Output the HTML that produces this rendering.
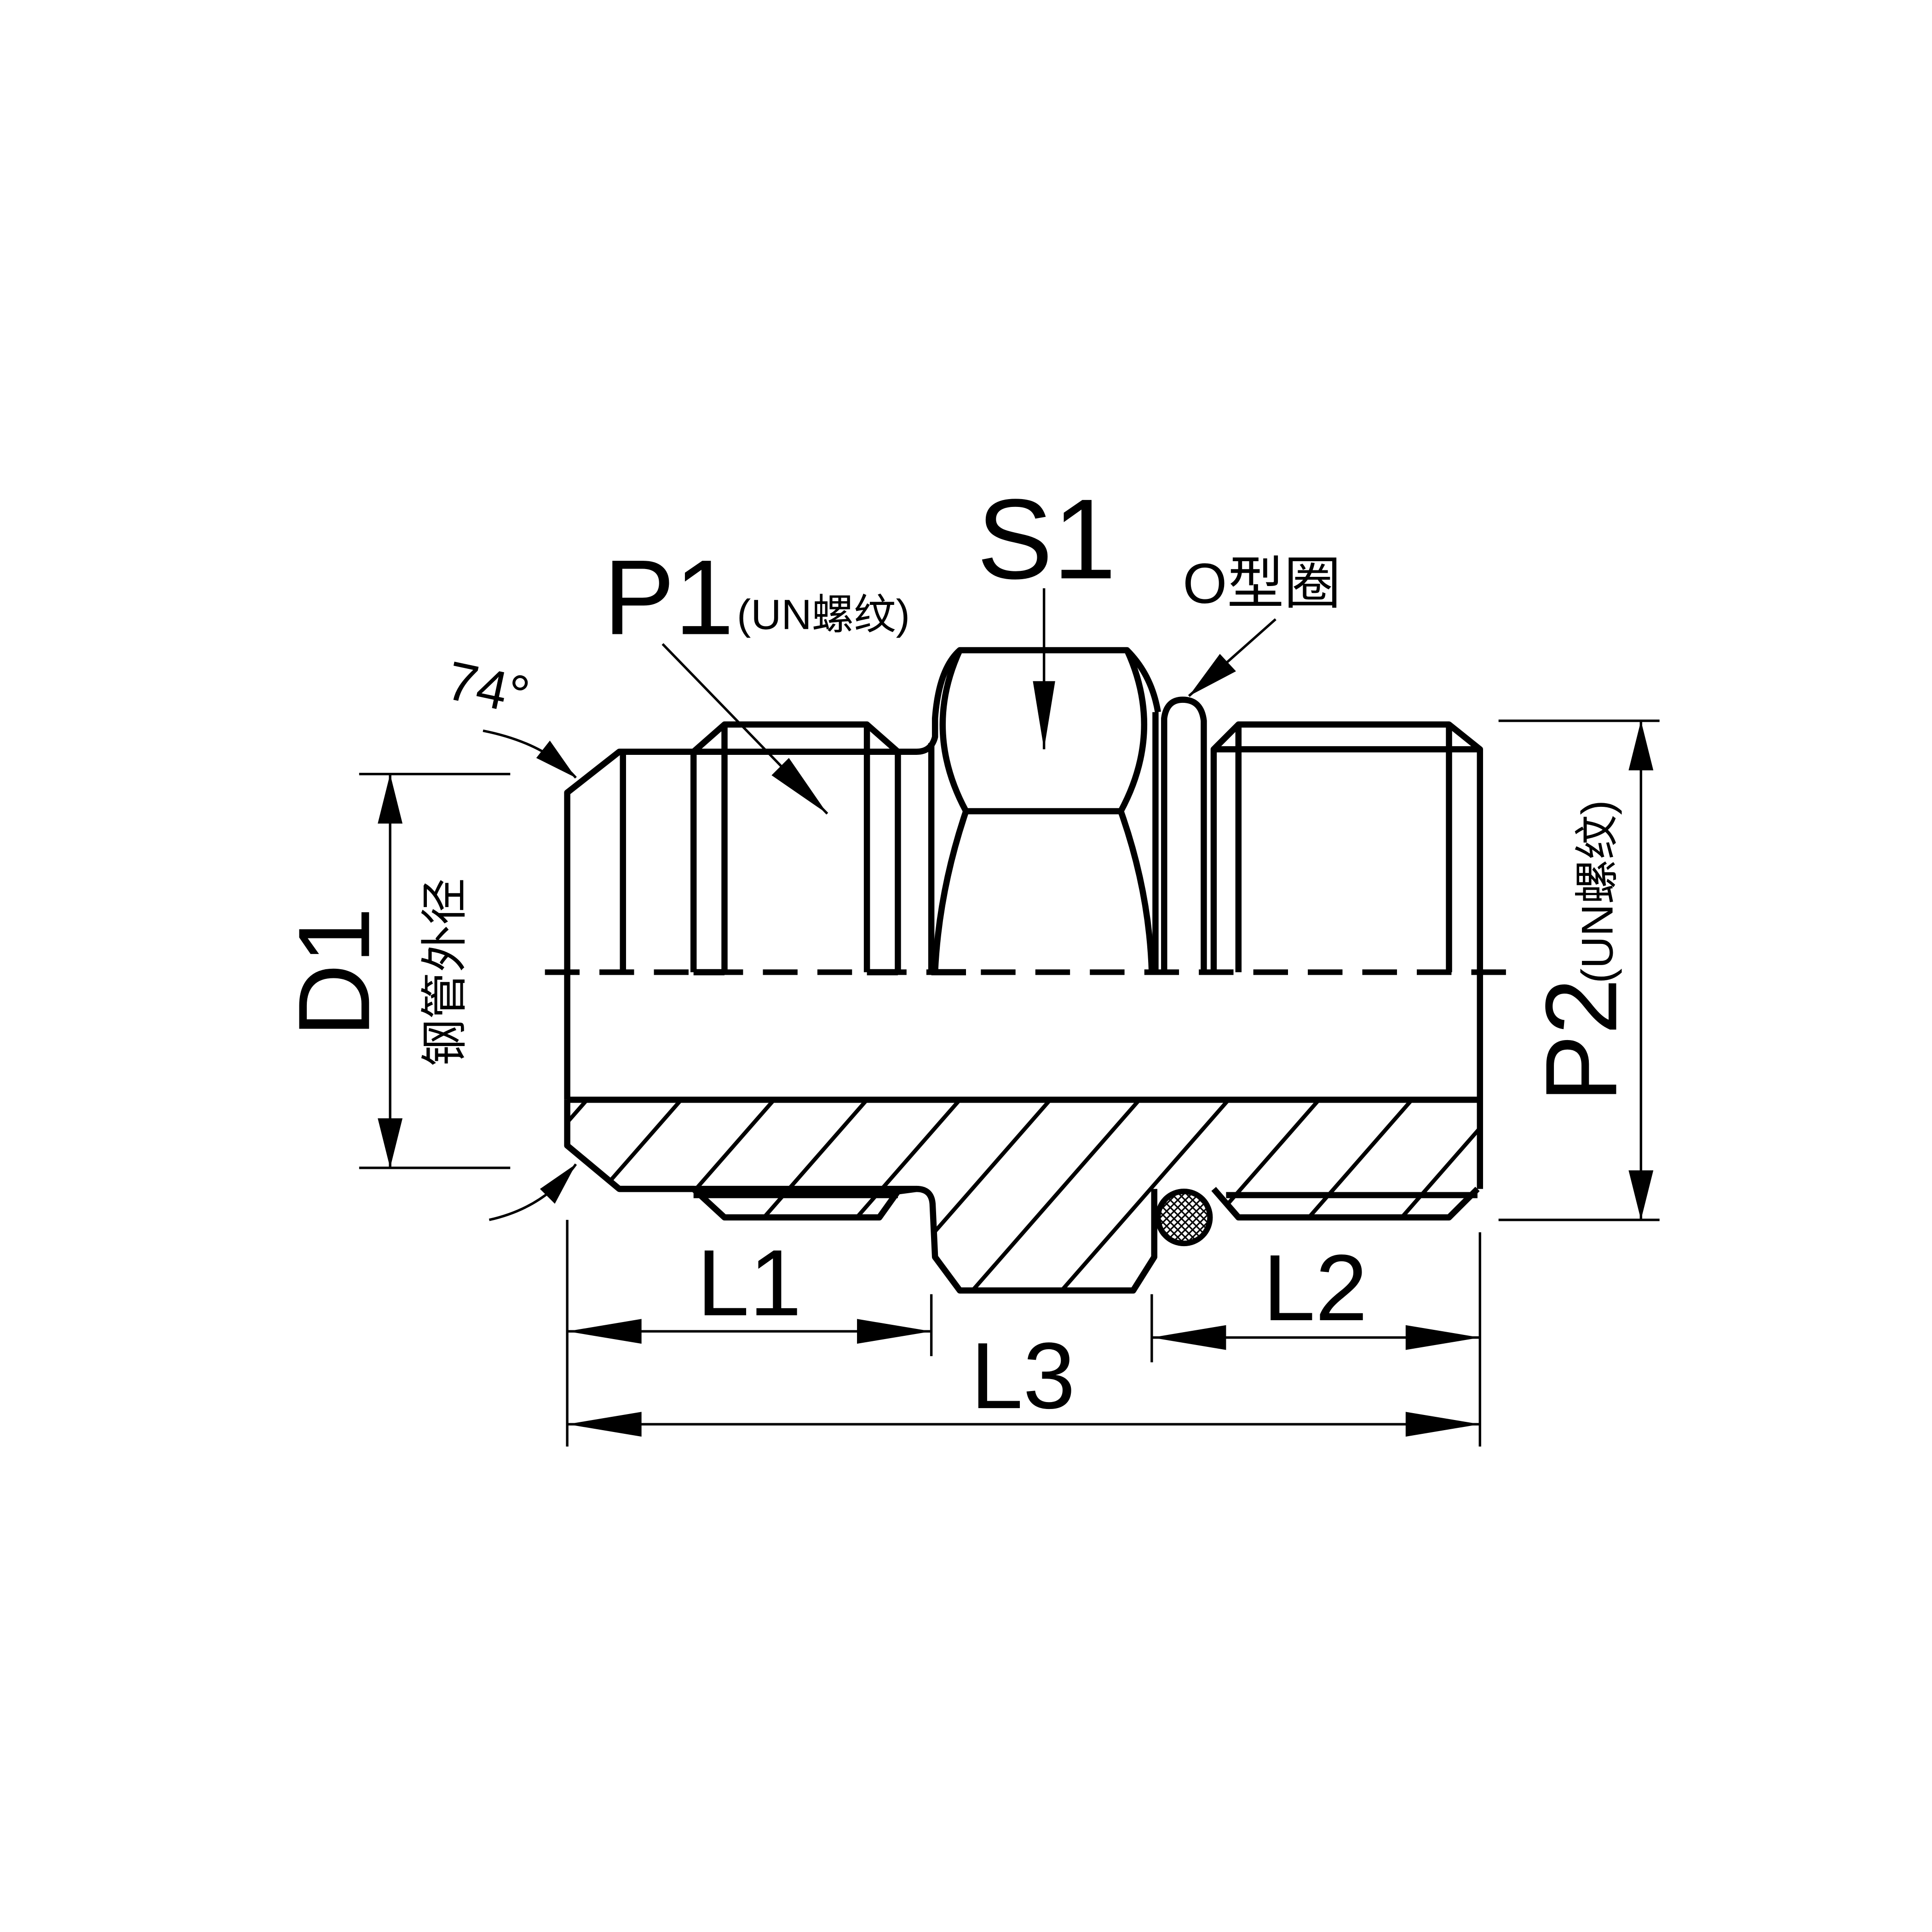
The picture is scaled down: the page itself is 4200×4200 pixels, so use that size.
<!DOCTYPE html>
<html><head><meta charset="utf-8"><style>html,body{margin:0;padding:0;background:#fff}svg{display:block}</style></head>
<body>
<svg width="4200" height="4200" viewBox="0 0 1560 1560" xmlns="http://www.w3.org/2000/svg" font-family="Liberation Sans, Noto Sans CJK SC, sans-serif">
<defs>
<clipPath id="hc"><path d="M458,888 L458,925 L500,960 L560,960 L585,983 L710,983 L725,962 L740,960 Q752,960 753,972 L755,1015 L775,1042 L915,1042 L932,1015 L932,960 L980,960 L1000,983 L1170,983 L1193,960 L1195,888 Z"/></clipPath>
<pattern id="xh" width="6" height="6" patternUnits="userSpaceOnUse"><path d="M0,0L6,6M6,0L0,6" stroke="#000" stroke-width="1.2"/></pattern>
</defs>
<g fill="none" stroke="#000" stroke-width="5" stroke-linejoin="round">
<path d="M458,888 L458,640 L500,607 L560,607 L585,585 L700,585 L725,607 L740,607 Q752,607 755,595 L755,580 Q758,540 775,525 L910,525 Q930,545 935,575"/>
<path d="M775,525 Q745,590 780,655 L905,655 Q940,590 910,525"/>
<path d="M780,655 Q758,720 755,785 M905,655 Q928,720 930,785"/>
<path d="M752,600 L752,785 M933,575 L933,785"/>
<path d="M940,785 L940,580 Q942,565 955,565 Q970,565 972,582 L972,785"/>
<path d="M980,785 L980,605 L1000,585 L1170,585 L1195,605 L1195,960"/>
<path d="M980,605 L1195,605 M560,607 L725,607"/>
<path d="M503,607 L503,785 M560,607 L560,785 M585,585 L585,785 M700,585 L700,785 M725,607 L725,785 M1000,585 L1000,785 M1170,585 L1170,785"/>
<path d="M560,785 L585,785 M700,785 L725,785 M752,785 L780,785"/>
<path d="M458,888 L1195,888"/>
<path d="M458,888 L458,925 L500,960 L560,960 L585,983 L710,983 L725,962 L740,960 Q752,960 753,972 L755,1015 L775,1042 L915,1042 L932,1015 L932,960 M980,960 L1000,983 L1170,983 L1193,960"/>
<path d="M560,965 L725,965 M500,960 L740,960 M990,965 L1193,965"/>
</g>
<line x1="440" y1="785" x2="1220" y2="785" stroke="#000" stroke-width="4.5" stroke-dasharray="28,16"/>
<g clip-path="url(#hc)" stroke="#000" stroke-width="3.2">
<path d="M474,888l-140,160M550,888l-140,160M625,888l-140,160M700,888l-140,160M775,888l-140,160M848,888l-140,160M920,888l-140,160M992,888l-140,160M1065,888l-140,160M1140,888l-140,160M1215,888l-140,160M1290,888l-140,160"/>
</g>
<circle cx="956" cy="983" r="21" fill="url(#xh)" stroke="#000" stroke-width="4.5"/>
<g stroke="#000" stroke-width="2" fill="none">
<path d="M290,625L412,625M290,943L412,943M315,625L315,943"/>
<path d="M1210,582L1340,582M1210,985L1340,985M1325,582L1325,985"/>
<path d="M458,985L458,1168M752,1045L752,1095M930,1045L930,1100M1195,995L1195,1168"/>
<path d="M458,1075L752,1075M930,1080L1195,1080M458,1150L1195,1150"/>
<path d="M843,475L843,605M535,520L668,657M1030,500L960,562"/>
<path d="M390,590Q440,600 465,628M395,985Q440,975 465,940"/>
</g>
<g fill="#000">
<path d="M315,625L305,665L325,665Z M315,943L305,903L325,903Z"/>
<path d="M1325,582L1315,622L1335,622Z M1325,985L1315,945L1335,945Z"/>
<path d="M458,1075L518,1065L518,1085Z M752,1075L692,1065L692,1085Z"/>
<path d="M930,1080L990,1070L990,1090Z M1195,1080L1135,1070L1135,1090Z"/>
<path d="M458,1150L518,1140L518,1160Z M1195,1150L1135,1140L1135,1160Z"/>
<path d="M843,605L834,550L852,550Z M668,657L623,626L637,612Z M960,562L985,528L998,542Z"/>
<path d="M465,628L433,612L444,598Z M465,940L448,972L436,960Z"/>
</g>
<g fill="#000">
<text x="540" y="512" font-size="86" text-anchor="middle">P1</text>
<text x="595" y="508" font-size="34">(UN螺纹)</text>
<text x="845" y="467" font-size="92" text-anchor="middle">S1</text>
<text x="955" y="487" font-size="46">O型圈</text>
<text x="360" y="572" font-size="44" transform="rotate(12 400 560)">74°</text>
<text x="605" y="1062" font-size="76" text-anchor="middle">L1</text>
<text x="1062" y="1066" font-size="76" text-anchor="middle">L2</text>
<text x="826" y="1137" font-size="76" text-anchor="middle">L3</text>
<text transform="translate(298,785) rotate(-90)" font-size="82" text-anchor="middle">D1</text>
<text transform="translate(372,785) rotate(-90)" font-size="38" text-anchor="middle">钢管外径</text>
<text transform="translate(1305,840) rotate(-90)" font-size="82" text-anchor="middle">P2</text>
<text transform="translate(1302,720) rotate(-90)" font-size="36" text-anchor="middle">(UN螺纹)</text>
</g>
</svg>
</body></html>
